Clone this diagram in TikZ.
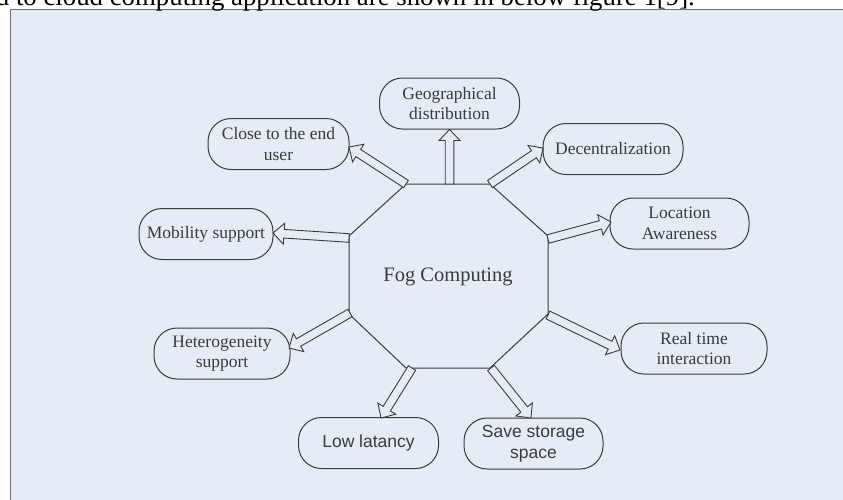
\documentclass[tikz,border=0pt]{standalone}
\usepackage{fontspec}
\setmainfont{Liberation Serif}
\newfontfamily\arialf{Liberation Sans}
\usetikzlibrary{calc}
\definecolor{bgblue}{HTML}{E6ECF6}
\definecolor{ink}{HTML}{3A3A3A}
\definecolor{framegray}{HTML}{707070}
\newcommand\holarrow[2]{%
  \coordinate (hh) at ($(#2)!11pt!(#1)$);
  \draw[arrowline] ($(#1)!4.3pt!90:(#2)$) -- ($(hh)!4.3pt!90:(#2)$) -- ($(hh)!10.5pt!90:(#2)$)
    -- (#2) -- ($(hh)!10.5pt!-90:(#2)$) -- ($(hh)!4.3pt!-90:(#2)$) -- ($(#1)!4.3pt!-90:(#2)$) -- cycle;
}
\begin{document}
\begin{tikzpicture}[x=1pt,y=-1pt,
  feat/.style={draw=ink, line width=1pt, rounded corners=23pt, minimum height=51pt,
    align=center, text=ink, inner sep=0pt, font=\fontsize{17.5}{20.5}\selectfont},
  sansfeat/.style={feat, font=\arialf\fontsize{17.5}{20.5}\selectfont},
  arrowline/.style={draw=ink, line width=0.9pt, fill=bgblue, line join=miter},
  octo/.style={draw=ink, line width=1pt}]
\useasboundingbox (0,0) rectangle (843,499);
\clip (0,0) rectangle (843,499);
% frame
\fill[bgblue] (10.5,9.5) rectangle (850,510);
\draw[framegray, line width=1.3pt] (10.5,510) -- (10.5,9.5) -- (850,9.5);
% cut-off caption line
\node[anchor=base east, inner sep=0pt, font=\fontsize{26.8}{30}\selectfont] (caption) at (695,5.5)
  {d to cloud computing application are shown in below figure 1[9].};
% octagon
\coordinate (o1) at (406,184);
\coordinate (o2) at (490,184);
\coordinate (o3) at (548,236);
\coordinate (o4) at (548,314);
\coordinate (o5) at (490,368);
\coordinate (o6) at (406,368);
\coordinate (o7) at (349,314);
\coordinate (o8) at (349,236);
\draw[octo] (o1) -- (o2) -- (o3) -- (o4) -- (o5) -- (o6) -- (o7) -- (o8) -- cycle;
\node[text=ink, font=\fontsize{20.5}{24}\selectfont] (fog) at (448,277) {Fog Computing};
% features
\node[feat, minimum width=140pt] (geo) at (449.5,103.5) {Geographical\\distribution};
\node[feat, minimum width=141pt] (close) at (278.5,144) {Close to the end\\user};
\node[feat, minimum width=140pt] (dec) at (613,149) {Decentralization};
\node[feat, minimum width=139pt] (loc) at (679.5,223.5) {Location\\Awareness};
\node[feat, minimum width=134pt] (mob) at (206,234) {Mobility support};
\node[feat, minimum width=146pt] (real) at (694,348.5) {Real time\\interaction};
\node[feat, minimum width=136pt] (het) at (222,353.5) {Heterogeneity\\support};
\node[sansfeat, minimum width=140pt] (low) at (368.5,443) {Low latancy};
\node[sansfeat, minimum width=139pt] (save) at (533.5,443.5) {Save storage\\space};
% arrow start / end points
\coordinate (sgeo) at (449.5,184);
\coordinate (tclose) at (349,147);
\coordinate (tdec) at (543,148);
\coordinate (sloc) at (548,239);
\coordinate (tloc) at (611,222);
\coordinate (smob) at (349,238);
\coordinate (tmob) at (273,233);
\coordinate (shet) at (350,313);
\coordinate (thet) at (289,348);
\coordinate (sreal) at (548,315);
\coordinate (treal) at (620,350);
\coordinate (slow) at (412,368);
\coordinate (tlow) at (381,418);
\coordinate (ssave) at (491,368);
\coordinate (tsave) at (531,418);
\holarrow{sgeo}{geo.south}
\holarrow{o1}{tclose}
\holarrow{o2}{tdec}
\holarrow{sloc}{tloc}
\holarrow{smob}{tmob}
\holarrow{shet}{thet}
\holarrow{sreal}{treal}
\holarrow{slow}{tlow}
\holarrow{ssave}{tsave}
\end{tikzpicture}
\end{document}
